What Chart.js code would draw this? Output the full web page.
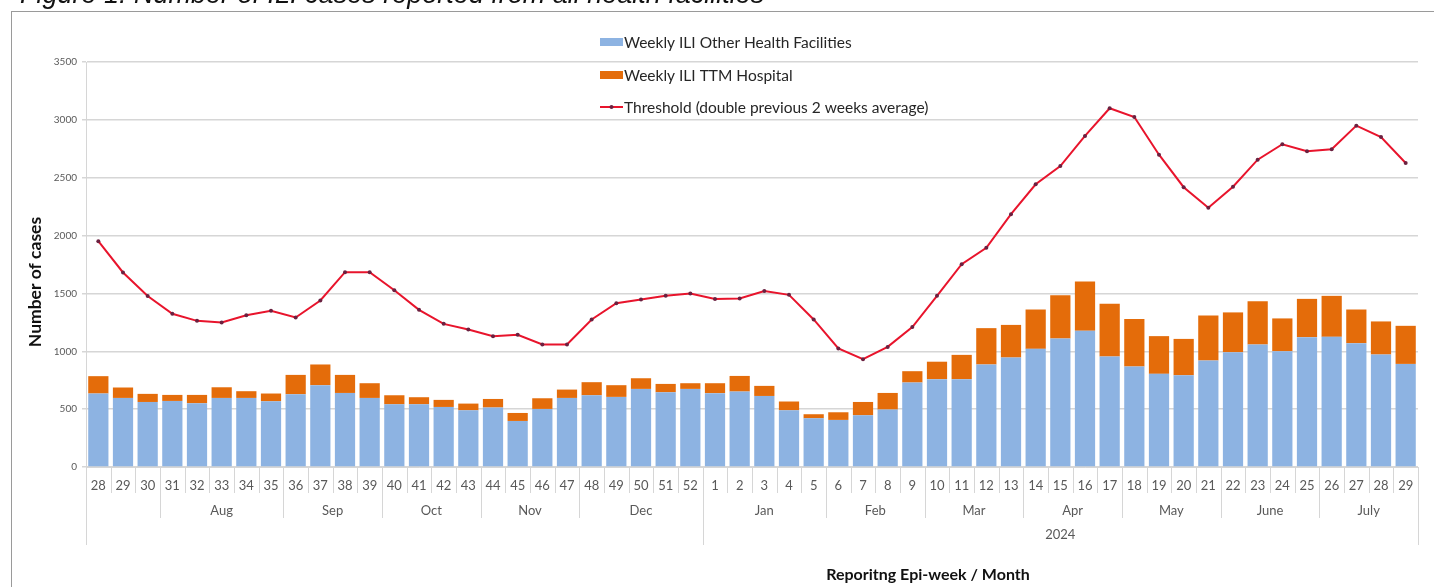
<!DOCTYPE html>
<html><head><meta charset="utf-8">
<script src="https://cdn.jsdelivr.net/npm/chart.js@4.4.1/dist/chart.umd.min.js"></script>
<style>
html,body{margin:0;padding:0;background:#fff;overflow:hidden}
#wrap{position:relative;width:1434px;height:587px;overflow:hidden}
#cap{position:absolute;left:20px;top:-21px;font:italic 27px "Liberation Sans",sans-serif;color:#111;white-space:nowrap}
canvas{position:absolute;left:0;top:0}
</style></head>
<body><div id="wrap"><canvas id="c" width="1434" height="587"></canvas><div id="cap">Figure 1: Number of ILI cases reported from all health facilities</div></div>
<script>
const weeks = ['28','29','30','31','32','33','34','35','36','37','38','39','40','41','42','43','44','45','46','47','48','49','50','51','52',
  '1','2','3','4','5','6','7','8','9','10','11','12','13','14','15','16','17','18','19','20','21','22','23','24','25','26','27','28','29'];
const otherFacilities = [635,597,562,571,551,597,597,568,629,707,640,597,542,542,519,490,514,398,502,597,620,606,675,646,675,
  638,652,614,490,421,407,447,496,730,759,759,886,946,1021,1111,1177,955,868,805,793,920,992,1059,1001,1122,1125,1070,972,891];
const ttmHospital = [150,90,70,52,72,92,58,67,167,179,156,127,78,61,61,58,74,69,92,72,113,101,92,72,49,
  86,135,87,76,35,66,115,144,98,151,210,314,282,340,374,427,455,412,326,314,390,344,374,283,331,354,291,286,329];
const threshold = [1952,1681,1477,1324,1263,1249,1312,1350,1292,1439,1684,1684,1528,1358,1237,1188,1131,1142,1059,1059,1275,1416,1448,1479,1500,
  1451,1457,1520,1488,1275,1024,932,1038,1209,1479,1753,1895,2185,2443,2601,2861,3100,3025,2699,2418,2240,2422,2656,2789,2728,2746,2950,2852,2627];
const monthLabels = ['','Aug','Sep','Oct','Nov','Dec','Jan','Feb','Mar','Apr','May','June','July'];
const monthSpans = [3,5,4,4,4,5,5,4,4,4,4,4,4];
const yearLabels = ['','2024'];
const yearSpans = [25,29];
const seriesNames = ['Weekly ILI Other Health Facilities','Weekly ILI TTM Hospital','Threshold (double previous 2 weeks average)'];

const BLUE = '#8db3e2', ORANGE = '#e46c0a', RED = '#e8142c', GRID = '#d6d6d6', TXT = '#595959';
const FONT = 'Lato, "Liberation Sans", sans-serif';

const bgPlugin = {
  id: 'bg',
  beforeDraw(chart) {
    const ctx = chart.ctx;
    ctx.save();
    ctx.fillStyle = '#fff';
    ctx.fillRect(0, 0, chart.width, chart.height);
    ctx.strokeStyle = '#9a9a9a';
    ctx.lineWidth = 1;
    ctx.strokeRect(11.5, 11.5, chart.width, chart.height);
    ctx.restore();
  }
};

const extras = {
  id: 'extras',
  afterDraw(chart) {
    const ctx = chart.ctx, xs = chart.scales.x, n = weeks.length;
    const step = (xs.right - xs.left) / n;
    const bx = i => xs.getPixelForValue(0) - step / 2 + i * step;
    const top = xs.top;
    ctx.save();
    ctx.strokeStyle = GRID; ctx.lineWidth = 1;
    const vline = (x, y2) => { ctx.beginPath(); ctx.moveTo(Math.round(x) + 0.5, top); ctx.lineTo(Math.round(x) + 0.5, y2); ctx.stroke(); };
    for (let i = 0; i <= n; i++) vline(bx(i), 493);
    ctx.fillStyle = TXT; ctx.textAlign = 'center'; ctx.textBaseline = 'middle';
    ctx.font = '13px ' + FONT;
    let acc = 0;
    monthSpans.forEach((s, k) => {
      if (acc > 0) vline(bx(acc), 518);
      if (monthLabels[k]) ctx.fillText(monthLabels[k], bx(acc + s / 2), 511);
      acc += s;
    });
    acc = 0;
    vline(bx(0), 545);
    yearSpans.forEach((s, k) => {
      vline(bx(acc + s), 545);
      if (yearLabels[k]) ctx.fillText(yearLabels[k], bx(acc + s / 2), 535);
      acc += s;
    });
    // axis titles
    ctx.fillStyle = '#111';
    ctx.font = 'bold 16px ' + FONT;
    ctx.fillText('Reporitng Epi-week / Month', 928, 575);
    ctx.save();
    ctx.translate(35, 282);
    ctx.rotate(-Math.PI / 2);
    ctx.font = 'bold 17.5px ' + FONT;
    ctx.fillText('Number of cases', 0, 0);
    ctx.restore();
    // legend
    ctx.textAlign = 'left';
    ctx.font = '15.5px ' + FONT;
    const lx = 600, rows = [42, 75, 107];
    ctx.fillStyle = BLUE; ctx.fillRect(lx, rows[0] - 4, 23, 8);
    ctx.fillStyle = ORANGE; ctx.fillRect(lx, rows[1] - 4, 23, 8);
    ctx.strokeStyle = RED; ctx.lineWidth = 2;
    ctx.beginPath(); ctx.moveTo(lx, rows[2]); ctx.lineTo(lx + 23, rows[2]); ctx.stroke();
    ctx.fillStyle = '#6b2140'; ctx.beginPath(); ctx.arc(lx + 11.5, rows[2], 2, 0, Math.PI * 2); ctx.fill();
    ctx.fillStyle = '#262626';
    seriesNames.forEach((t, i) => ctx.fillText(t, lx + 24, rows[i] + 1));
    ctx.restore();
  }
};

new Chart(document.getElementById('c'), {
  type: 'bar',
  data: {
    labels: weeks,
    datasets: [
      { type: 'line', label: seriesNames[2], data: threshold, borderColor: RED, borderWidth: 2, tension: 0,
        pointRadius: 2, pointBackgroundColor: '#6b2140', pointBorderWidth: 0, order: 0, stack: 'thr' },
      { label: seriesNames[0], data: otherFacilities, backgroundColor: BLUE, order: 1, stack: 'bars',
        categoryPercentage: 1, barPercentage: 0.82 },
      { label: seriesNames[1], data: ttmHospital, backgroundColor: ORANGE, order: 1, stack: 'bars',
        categoryPercentage: 1, barPercentage: 0.82 }
    ]
  },
  options: {
    responsive: false,
    animation: false,
    layout: { padding: { top: 62, right: 16, bottom: 0, left: 0 } },
    plugins: { legend: { display: false }, tooltip: { enabled: false } },
    scales: {
      x: {
        stacked: true,
        grid: { display: false, drawTicks: false },
        border: { display: true, color: GRID, width: 1 },
        ticks: { color: TXT, font: { size: 13, family: FONT }, padding: 11, maxRotation: 0, autoSkip: false },
        afterFit(s) { s.height = 120; }
      },
      y: {
        stacked: true,
        min: 0, max: 3500,
        ticks: { stepSize: 500, color: TXT, font: { size: 10, family: FONT }, padding: 5,
                 callback: v => String(v) },
        grid: { color: GRID, lineWidth: 1.5, tickLength: 4, drawTicks: true },
        border: { display: true, color: GRID, width: 1 },
        afterFit(s) { s.width = 86; }
      }
    }
  },
  plugins: [bgPlugin, extras]
});
</script>
</body></html>
